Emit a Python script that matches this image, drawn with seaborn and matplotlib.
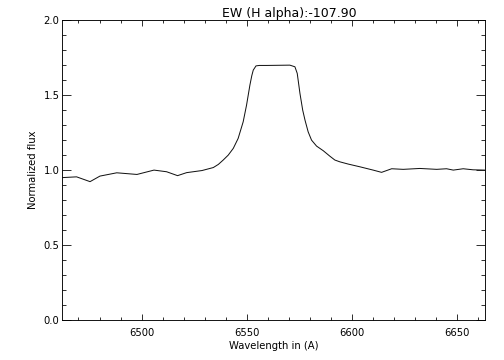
import numpy as np
import pandas as pd
import matplotlib
matplotlib.use("Agg")
import matplotlib.pyplot as plt
from matplotlib.ticker import MultipleLocator, FormatStrFormatter
import seaborn as sns

# H-alpha profile
wavelength = [6462.4, 6469.1, 6475.5, 6480.2, 6488.2, 6497.8, 6505.9, 6511.9,
              6517.1, 6521.4, 6528.7, 6534.1, 6536.5, 6538.8, 6541.2, 6543.6,
              6545.9, 6548.3, 6549.9, 6551.5, 6552.4, 6553.1, 6554.4, 6556.0,
              6559.5, 6570.5, 6572.9, 6574.0, 6575.3, 6576.6, 6577.7, 6579.2,
              6580.8, 6583.2, 6586.4, 6589.5, 6591.9, 6594.3, 6598.3, 6603.8,
              6610.1, 6614.1, 6618.9, 6624.4, 6632.3, 6640.3, 6645.0, 6648.2,
              6652.9, 6657.6, 6663.2]
flux = [0.950, 0.955, 0.923, 0.960, 0.982, 0.971, 1.000, 0.989,
        0.963, 0.983, 0.997, 1.017, 1.038, 1.067, 1.100, 1.145,
        1.211, 1.322, 1.433, 1.567, 1.630, 1.667, 1.695, 1.698,
        1.698, 1.700, 1.689, 1.645, 1.511, 1.400, 1.333, 1.255,
        1.200, 1.160, 1.129, 1.093, 1.067, 1.055, 1.040, 1.022,
        1.000, 0.985, 1.009, 1.005, 1.011, 1.005, 1.009, 1.000,
        1.009, 1.002, 1.000]

df = pd.DataFrame({"Wavelength": wavelength, "Flux": flux})

sns.set_style("ticks")
plt.rcParams["font.family"] = ["DejaVu Sans"]
plt.rcParams["text.color"] = "black"

fig = plt.figure(figsize=(7, 5), dpi=72)
ax = fig.add_axes([0.124, 0.111, 0.838, 0.833])

sns.lineplot(data=df, x="Wavelength", y="Flux", color="#111111", linewidth=1.0, ax=ax)

ax.set_xlim(6462.4, 6663.2)
ax.set_ylim(0, 2.0)
ax.xaxis.set_major_locator(MultipleLocator(50))
ax.xaxis.set_minor_locator(MultipleLocator(10))
ax.yaxis.set_major_locator(MultipleLocator(0.5))
ax.yaxis.set_minor_locator(MultipleLocator(0.1))
ax.yaxis.set_major_formatter(FormatStrFormatter("%.1f"))

ax.tick_params(which="both", direction="in", top=True, right=True,
               labelsize=10, colors="black", width=0.8)
ax.tick_params(axis="x", which="major", length=6, pad=8)
ax.tick_params(axis="x", which="minor", length=3)
ax.tick_params(axis="y", which="major", length=9, pad=3)
ax.tick_params(axis="y", which="minor", length=4)

for s in ax.spines.values():
    s.set_linewidth(0.9)
    s.set_color("black")

ax.set_xlabel("Wavelength in (A)", fontsize=10, labelpad=3, color="black")
ax.set_ylabel("Normalized flux", fontsize=10, labelpad=5, color="black")
ax.set_title("EW (H alpha):-107.90", fontsize=12.5, x=0.537, pad=3, color="black")

fig.savefig("out.png", dpi=72)
